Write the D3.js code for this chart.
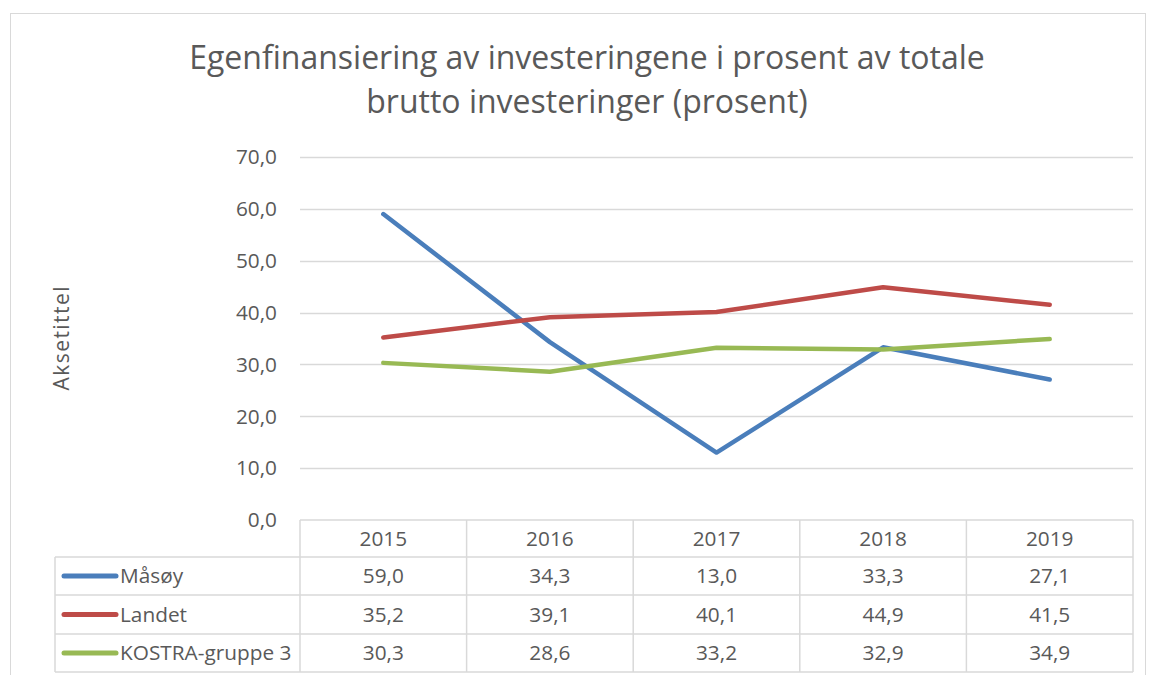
<!DOCTYPE html>
<html>
<head>
<meta charset="utf-8">
<script src="https://cdn.jsdelivr.net/npm/d3@7"></script>
<style>
  body { margin: 0; background: #fff; }
  svg { display: block; font-family: "Open Sans", Lato, sans-serif; }
</style>
</head>
<body>
<svg id="chart" width="1149" height="675"></svg>
<script>
const years = ["2015", "2016", "2017", "2018", "2019"];
const seriesNames = ["Måsøy", "Landet", "KOSTRA-gruppe 3"];
const masoy = [59.0, 34.3, 13.0, 33.3, 27.1];
const landet = [35.2, 39.1, 40.1, 44.9, 41.5];
const kostra = [30.3, 28.6, 33.2, 32.9, 34.9];
const yTicks = [0, 10, 20, 30, 40, 50, 60, 70];
const colors = ["#4A7EBB", "#BE4B48", "#98B954"];

const series = [masoy, landet, kostra].map((v, i) => ({ name: seriesNames[i], values: v, color: colors[i] }));

const width = 1149, height = 675;
const plot = { left: 300, right: 1133, top: 157, bottom: 520 };
const rowH = [37, 38, 39, 38]; // header row + 3 series rows
const legendLeft = 55;
const textSize = 20.8;
const fmt = v => d3.format(".1f")(v).replace(".", ",");

const svg = d3.select("#chart");

// outer chart border
svg.append("rect")
  .attr("x", 10.5).attr("y", 13.5)
  .attr("width", width - 14).attr("height", height)
  .attr("fill", "none").attr("stroke", "#d9d9d9");

// title
const title = svg.append("text")
  .attr("text-anchor", "middle")
  .attr("fill", "#595959")
  .attr("font-size", 32);
title.append("tspan").attr("x", 587).attr("y", 69).text("Egenfinansiering av investeringene i prosent av totale");
title.append("tspan").attr("x", 587).attr("y", 113).text("brutto investeringer (prosent)");

const x = d3.scaleBand().domain(years).range([plot.left, plot.right]);
const y = d3.scaleLinear().domain([0, 70]).range([plot.bottom, plot.top]);

// gridlines
svg.append("g")
  .selectAll("line")
  .data(yTicks.filter(d => d > 0))
  .join("line")
  .attr("x1", plot.left).attr("x2", plot.right)
  .attr("y1", d => Math.round(y(d)) + 0.5).attr("y2", d => Math.round(y(d)) + 0.5)
  .attr("stroke", "#d9d9d9").attr("stroke-width", 1.3);

// y axis labels
svg.append("g")
  .selectAll("text")
  .data(yTicks)
  .join("text")
  .attr("x", 277)
  .attr("y", d => y(d))
  .attr("dy", "0.35em")
  .attr("text-anchor", "end")
  .attr("fill", "#595959")
  .attr("font-size", textSize)
  .text(d => fmt(d));

// axis title
svg.append("text")
  .attr("transform", `translate(69,${(plot.top + plot.bottom) / 2}) rotate(-90)`)
  .attr("text-anchor", "middle")
  .attr("fill", "#595959")
  .attr("font-size", 21)
  .attr("textLength", 104)
  .text("Aksetittel");

// data table
const rowTops = [plot.bottom];
rowH.forEach((h, i) => rowTops.push(rowTops[i] + h));
const table = svg.append("g").attr("stroke", "#d9d9d9").attr("stroke-width", 1.5);

// horizontal lines
table.selectAll("line.h")
  .data(rowTops)
  .join("line")
  .attr("class", "h")
  .attr("x1", (d, i) => i === 0 ? plot.left : legendLeft)
  .attr("x2", plot.right)
  .attr("y1", d => d).attr("y2", d => d);

// vertical lines
const colEdges = [plot.left].concat(years.map(d => x(d) + x.bandwidth()));
table.selectAll("line.v")
  .data(colEdges)
  .join("line")
  .attr("class", "v")
  .attr("x1", d => d).attr("x2", d => d)
  .attr("y1", plot.bottom).attr("y2", rowTops[rowTops.length - 1]);
table.append("line")
  .attr("x1", legendLeft).attr("x2", legendLeft)
  .attr("y1", rowTops[1]).attr("y2", rowTops[rowTops.length - 1]);

// year headers
svg.append("g")
  .selectAll("text")
  .data(years)
  .join("text")
  .attr("x", d => x(d) + x.bandwidth() / 2)
  .attr("y", (rowTops[0] + rowTops[1]) / 2)
  .attr("dy", "0.35em")
  .attr("text-anchor", "middle")
  .attr("fill", "#595959")
  .attr("font-size", textSize)
  .text(d => d);

// rows
series.forEach((s, i) => {
  const cy = (rowTops[i + 1] + rowTops[i + 2]) / 2;
  const row = svg.append("g");
  row.append("line")
    .attr("x1", 64).attr("x2", 116)
    .attr("y1", cy).attr("y2", cy)
    .attr("stroke", s.color).attr("stroke-width", 5)
    .attr("stroke-linecap", "round");
  row.append("text")
    .attr("x", 120).attr("y", cy).attr("dy", "0.35em")
    .attr("fill", "#595959").attr("font-size", textSize)
    .text(s.name);
  row.selectAll("text.v")
    .data(s.values)
    .join("text")
    .attr("class", "v")
    .attr("x", (d, j) => x(years[j]) + x.bandwidth() / 2)
    .attr("y", cy).attr("dy", "0.35em")
    .attr("text-anchor", "middle")
    .attr("fill", "#595959").attr("font-size", textSize)
    .text(d => fmt(d));
});

// lines
const line = d3.line()
  .x((d, j) => x(years[j]) + x.bandwidth() / 2)
  .y(d => y(d));

svg.append("g")
  .selectAll("path")
  .data(series)
  .join("path")
  .attr("d", d => line(d.values))
  .attr("fill", "none")
  .attr("stroke", d => d.color)
  .attr("stroke-width", 4.5)
  .attr("stroke-linecap", "round")
  .attr("stroke-linejoin", "round");
</script>
</body>
</html>
